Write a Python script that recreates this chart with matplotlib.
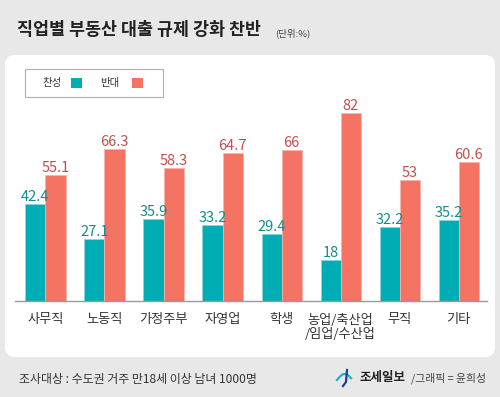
import numpy as np
import matplotlib
matplotlib.use("Agg")
import matplotlib.pyplot as plt
from matplotlib.patches import FancyBboxPatch, Rectangle
from matplotlib.lines import Line2D

plt.rcParams['font.family'] = ['Noto Sans CJK KR', 'DejaVu Sans']

# data
jobs = ['사무직', '노동직', '가정주부', '자영업', '학생', '농업/축산업\n/임업/수산업', '무직', '기타']
agree = [42.4, 27.1, 35.9, 33.2, 29.4, 18, 32.2, 35.2]
oppose = [55.1, 66.3, 58.3, 64.7, 66, 82, 53, 60.6]

teal = '#00adb5'
coral = '#f47362'
teal_txt = '#138c8c'
coral_txt = '#c0504d'

W, H = 500, 397
fig = plt.figure(figsize=(W / 100, H / 100), dpi=100)
fig.patch.set_facecolor('#e8e8e8')


def fx(px):
    return px / W


def fy(py):
    return 1 - py / H


# white panel
panel = FancyBboxPatch((fx(5), fy(357)), fx(490), (357 - 55) / H,
                       boxstyle='round,pad=0,rounding_size=0.02',
                       mutation_aspect=W / H,
                       transform=fig.transFigure, facecolor='white',
                       edgecolor='none', zorder=-5)
fig.patches.append(panel)

# title
fig.text(fx(17), fy(30), '직업별 부동산 대출 규제 강화 찬반', fontsize=12.5,
         fontweight='bold', color='#222222', va='center', ha='left')
fig.text(fx(275), fy(33), '(단위:%)', fontsize=6.8, color='#444444',
         va='center', ha='left')

# legend
fig.patches.append(Rectangle((fx(25), fy(97)), fx(138), 28 / H,
                             transform=fig.transFigure, facecolor='white',
                             edgecolor='#b0b0b0', linewidth=0.8, zorder=-4))
fig.text(fx(52), fy(83), '찬성', fontsize=7.5, color='#333333', ha='center', va='center')
fig.patches.append(Rectangle((fx(71), fy(88)), fx(11), 10 / H,
                             transform=fig.transFigure, facecolor=teal, edgecolor='none'))
fig.text(fx(110), fy(83), '반대', fontsize=7.5, color='#333333', ha='center', va='center')
fig.patches.append(Rectangle((fx(132), fy(88)), fx(11), 10 / H,
                             transform=fig.transFigure, facecolor=coral, edgecolor='none'))

# chart
ax = fig.add_axes([fx(15), fy(301), fx(472), 201 / H])
ax.set_facecolor('none')
ax.set_zorder(2)
x = np.arange(len(jobs))
w = 0.34
b1 = ax.bar(x - w / 2, agree, w, color=teal, edgecolor='#8fd6d9', linewidth=0.5)
b2 = ax.bar(x + w / 2, oppose, w, color=coral, edgecolor='#f9b5ab', linewidth=0.5)
ax.bar_label(b1, labels=[f'{v:g}' for v in agree], padding=0,
             fontsize=10.5, color=teal_txt)
ax.bar_label(b2, labels=[f'{v:g}' for v in oppose], padding=0,
             fontsize=10.5, color=coral_txt)

ax.set_xlim(-0.516, 7.48)
ax.set_ylim(0, 87.8)
ax.set_yticks([])
ax.set_xticks(x)
ax.set_xticklabels(jobs, fontsize=9.5, color='#333333', linespacing=1.1)
ax.tick_params(axis='x', length=0, pad=9)
for s in ['top', 'right', 'left']:
    ax.spines[s].set_visible(False)
ax.spines['bottom'].set_color('#9a9a9a')
ax.spines['bottom'].set_linewidth(1)

# footer
fig.text(fx(19), fy(380), '조사대상 : 수도권 거주 만18세 이상 남녀 1000명',
         fontsize=8.6, color='#333333', ha='left', va='center')
fig.text(fx(359), fy(378), '조세일보', fontsize=9, fontweight='bold',
         color='#222222', ha='left', va='center')
fig.text(fx(411), fy(378), '/그래픽 = 윤희성', fontsize=7.8,
         color='#444444', ha='left', va='center')

# small logo mark
t = np.linspace(0, 1, 30)
lx = 337 + 14 * t
ly = 380 - 6 * np.sin(np.pi * t * 0.9)
fig.lines.append(Line2D(fx(lx), fy(ly), transform=fig.transFigure,
                        color='#22b3c4', linewidth=1.6))
fig.lines.append(Line2D(fx(np.array([347, 346, 343])), fy(np.array([370, 382, 386])),
                        transform=fig.transFigure, color='#1d3f8f', linewidth=1.6))

fig.savefig('out.png', dpi=100, facecolor=fig.get_facecolor())
